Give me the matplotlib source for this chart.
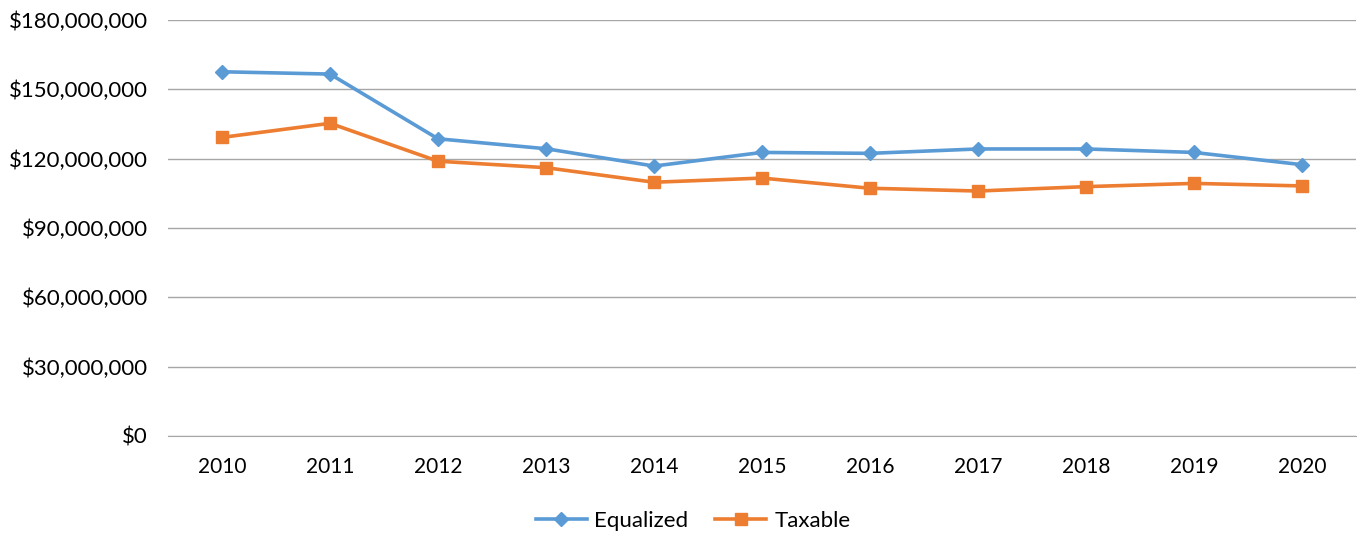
import matplotlib
matplotlib.use("Agg")
import matplotlib.pyplot as plt
from matplotlib.ticker import FuncFormatter

years = ["2010", "2011", "2012", "2013", "2014", "2015", "2016", "2017", "2018", "2019", "2020"]
equalized = [157.6e6, 156.6e6, 128.6e6, 124.3e6, 116.8e6, 122.7e6, 122.3e6, 124.2e6, 124.2e6, 122.7e6, 117.4e6]
taxable = [129.2e6, 135.3e6, 118.9e6, 116.1e6, 109.8e6, 111.6e6, 107.2e6, 106.0e6, 107.9e6, 109.3e6, 108.2e6]
yticks = [0, 30e6, 60e6, 90e6, 120e6, 150e6, 180e6]

plt.rcParams['font.family'] = ['Lato', 'DejaVu Sans']

fig = plt.figure(figsize=(13.64, 5.35), dpi=100)
ax = fig.add_axes([168/1364, 1-436/535, (1356-168)/1364, (436-20)/535])

x = list(range(len(years)))
ax.plot(x, equalized, color="#5B9BD5", lw=2.6, marker="D", ms=7.5, label="Equalized", zorder=3)
ax.plot(x, taxable, color="#ED7D31", lw=2.6, marker="s", ms=8.5, label="Taxable", zorder=3)

ax.set_xlim(-0.5, len(years)-0.5)
ax.set_ylim(0, 180e6)
ax.set_yticks(yticks)
ax.yaxis.set_major_formatter(FuncFormatter(lambda v, p: "${:,.0f}".format(v)))
ax.set_xticks(x)
ax.set_xticklabels(years)
ax.grid(axis="y", color="#A6A6A6", lw=1)
ax.set_axisbelow(True)
for s in ["top", "right", "left"]:
    ax.spines[s].set_visible(False)
ax.spines["bottom"].set_color("#A6A6A6")
ax.tick_params(axis="y", length=0, labelsize=16, pad=14.5, colors="#000000")
ax.tick_params(axis="x", length=0, labelsize=15, pad=15, colors="#000000")

fig.legend(loc="lower center", bbox_to_anchor=(0.508, -0.03), ncol=2, frameon=False,
           fontsize=16, handlelength=2.3, columnspacing=1.2, handletextpad=0.35)

fig.savefig("out.png", dpi=100)
